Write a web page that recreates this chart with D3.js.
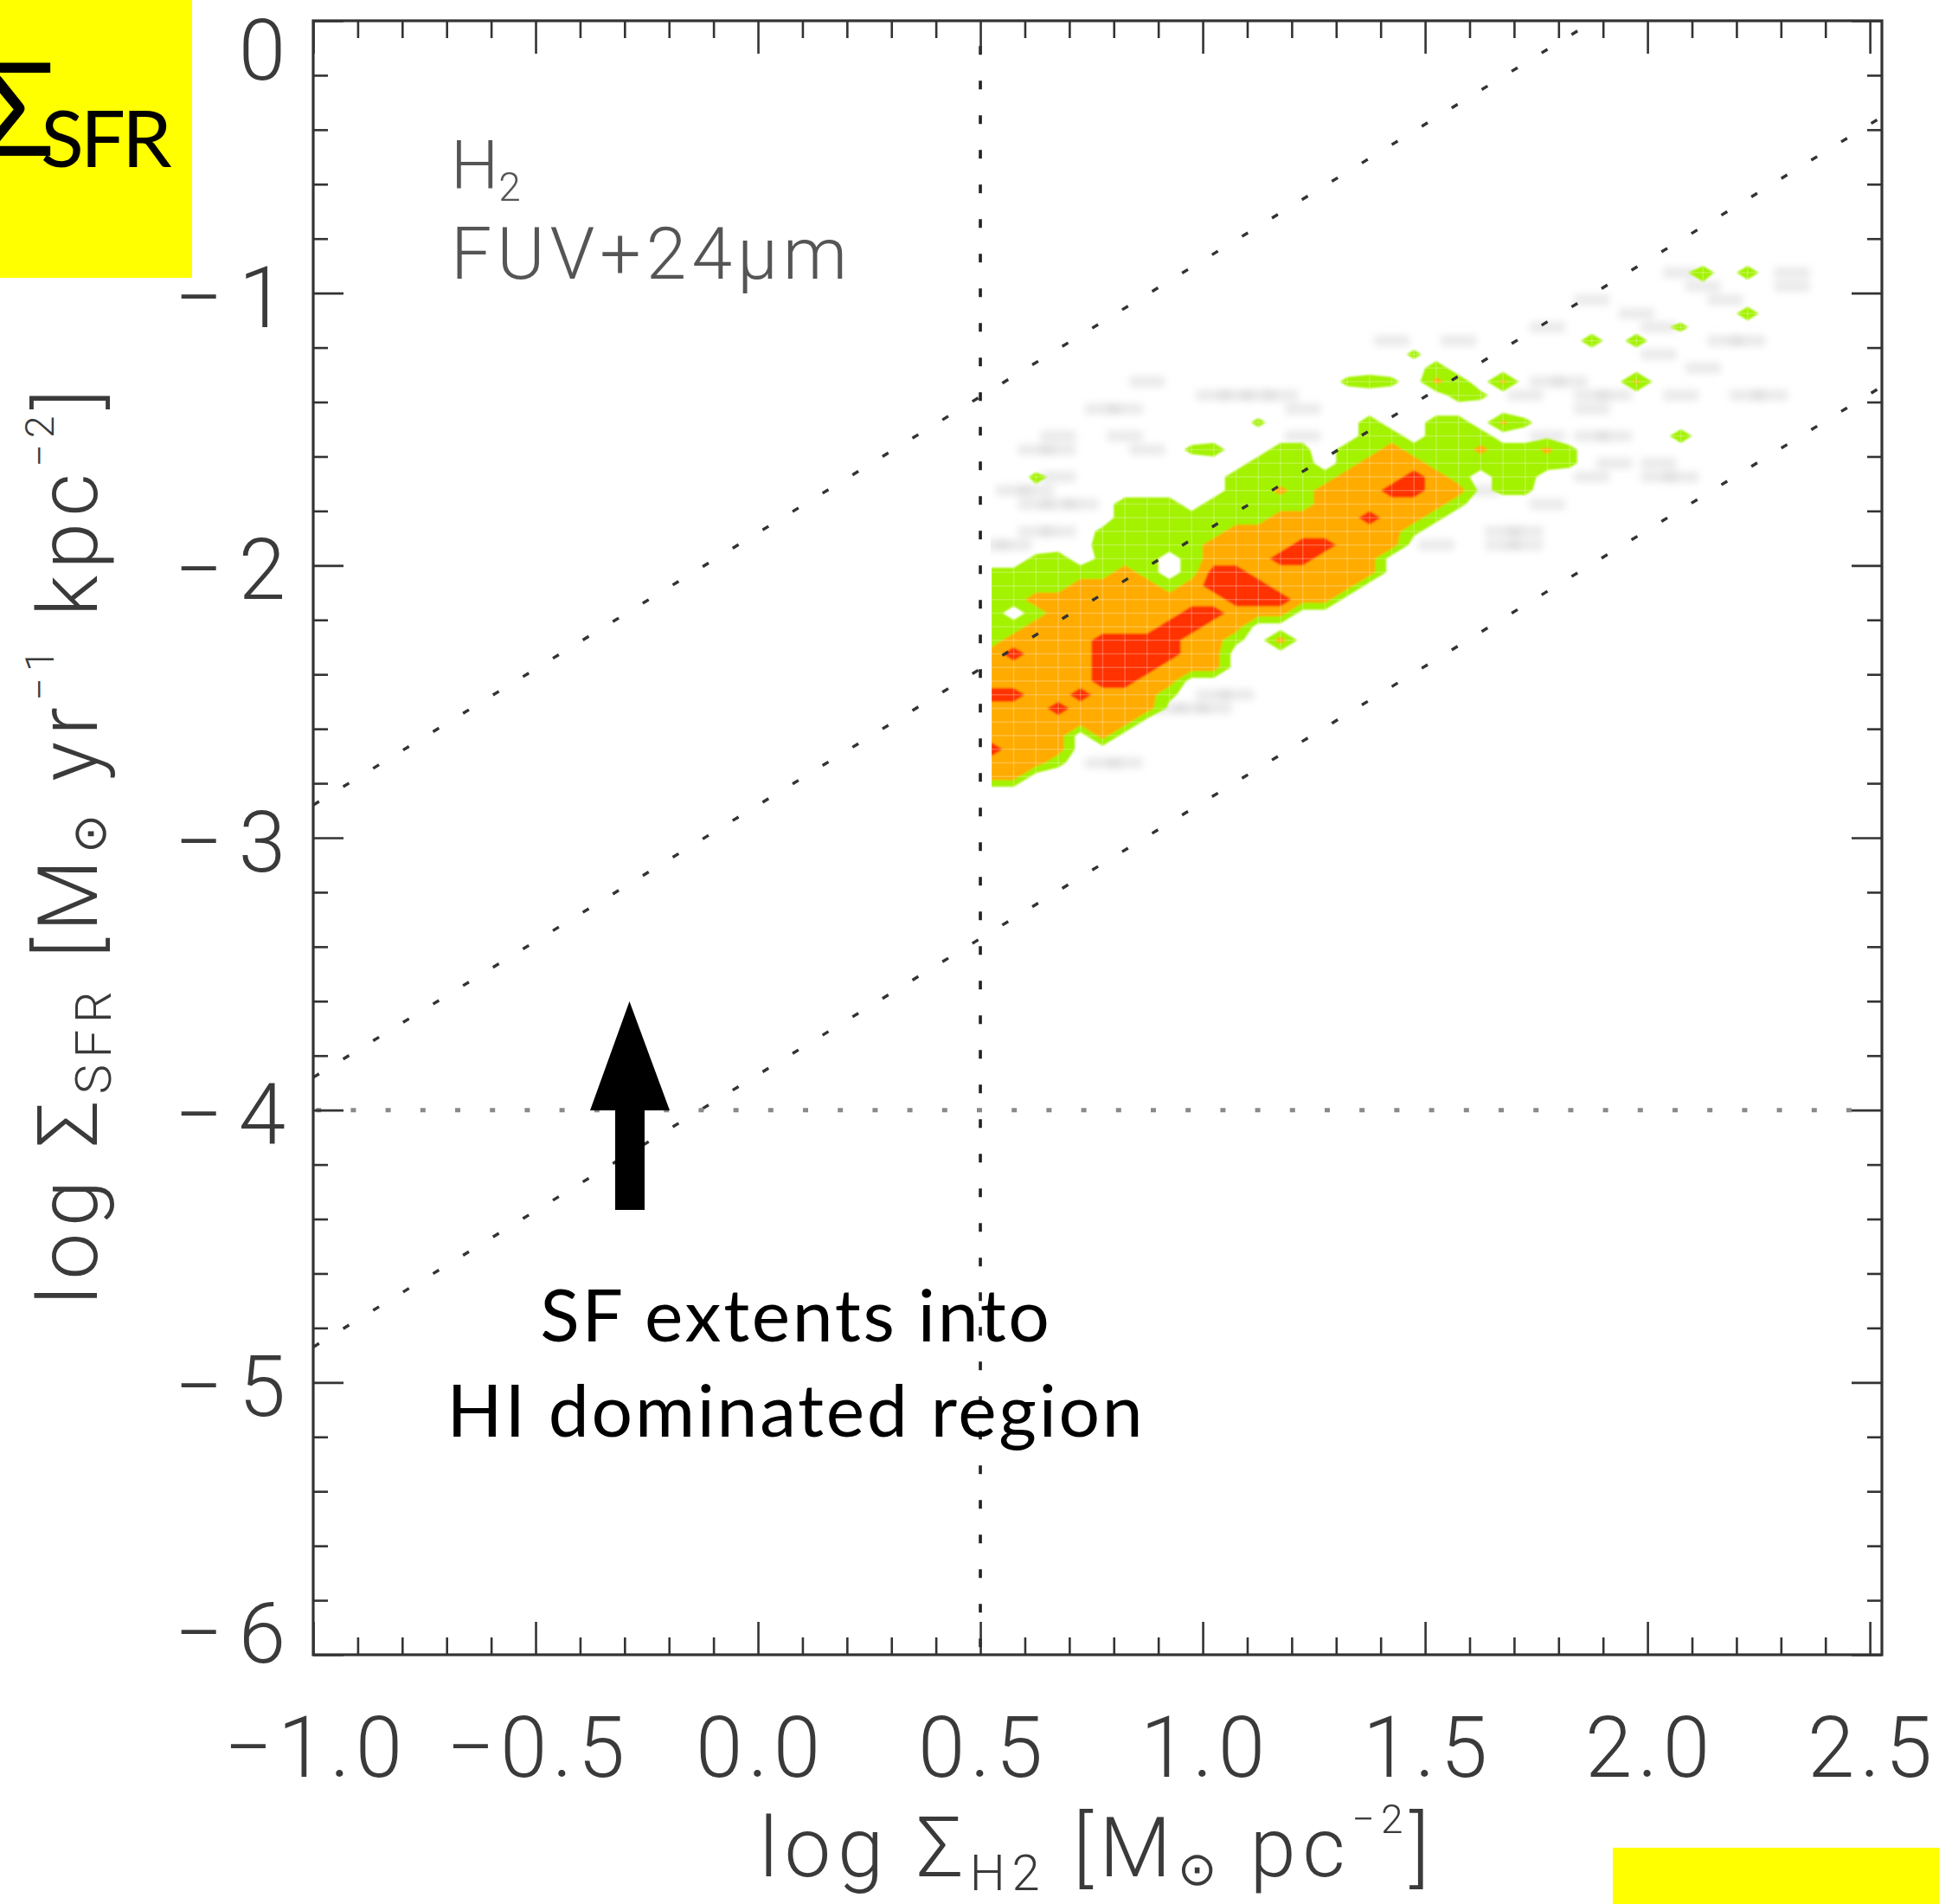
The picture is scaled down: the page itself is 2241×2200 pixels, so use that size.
<!DOCTYPE html>
<html><head><meta charset="utf-8">
<script src="https://cdn.jsdelivr.net/npm/d3@7"></script>
<style>body{margin:0;background:#fff;} svg{display:block;}</style>
</head><body>
<svg id="chart" width="2241" height="2200"></svg>
<script>
// ---------------- data ----------------
const xTicks = [-1.0, -0.5, 0.0, 0.5, 1.0, 1.5, 2.0, 2.5];
const xTickLabels = ["\u22121.0", "\u22120.5", "0.0", "0.5", "1.0", "1.5", "2.0", "2.5"];
const yTicks = [0, -1, -2, -3, -4, -5, -6];
const yTickLabels = ["0", "\u22121", "\u22122", "\u22123", "\u22124", "\u22125", "\u22126"];
const depletionOffsets = [-1.88, -2.88, -3.87];   // dotted lines: log SFR = log H2 + c
const thresholdH2 = 0.5;                          // vertical dotted line
const thresholdSFR = -4;                          // horizontal dotted line
const dataMinX = 0.525;                           // first data column
const gridX0 = 0.5, gridDX = 0.05, gridY0 = -0.85, gridDY = 0.05;
// density grid, top row = log SFR -0.875, left col = log H2 0.525
// '.' empty  '-' faint  'G','g' low  'h','o' mid  'r' high
const gridRows = [
"......................................",
"...............................-g.g.-.",
"................................-...-.",
"...........................-.....-....",
".............................-....g...",
".........................-....-G......",
"..................-..-.....g.g...--...",
"...................G..........-.......",
"....................g...........-.....",
".......-........GgG.hg.h.--..h........",
"..........----.......gG.-..--..-..--..",
".....--.......-............-..........",
"............G....g..gg.hG.............",
"...-..-.......-..gg.ggg..-.--..g......",
"..--...-.Gg..gG.ggoggghgghG...........",
"............ggg.goooggggggG.-.-.......",
"..G-.......gggggooorog.gg..-..--......",
".--........gghgooorroo-GG.............",
"..---.ggg.gggggooooooG...-............",
"......gggggggoooorooG.................",
"..--.GgggggooooooooG...--.............",
"--...gggggoooorrooo.-..--.............",
"..Gg.Ggg.gooorrooo....................",
"GGggggog.grroooooo....................",
"ggggoooogorrroooo.....................",
"ggooooooooorrroo......................",
"g.goooooorrooo........................",
"ggoooooorroo..........................",
"goooorrrrooG.o........................",
"orooorrrroo...........................",
"ooooorrrooo...........................",
"ooooorroo.............................",
"rrooroooG.--..........................",
"oooroooo---...........................",
"ooooooo...............................",
"oooo.o................................",
"rooo..................................",
"oooG.--...............................",
"oo....................................",
"......................................"
];
const levelValue = {'.': 0, '-': 1, 'G': 3, 'g': 4, 'h': 7, 'o': 8, 'r': 12};
const contourLevels = [2, 6, 10];
const contourColors = ["#a3f200", "#ffab00", "#ff3300"];

// ---------------- layout ----------------
const svg = d3.select("#chart");
const x = d3.scaleLinear().domain([-1.0, 2.527]).range([362, 2175]);
const y = d3.scaleLinear().domain([-6, 0]).range([1912, 24]);
const [xMin, xMax] = x.domain(), [yMin, yMax] = y.domain();

svg.append("rect").attr("width", 2241).attr("height", 2200).attr("fill", "#fff");

const defs = svg.append("defs");
defs.append("clipPath").attr("id", "plotClip").append("rect")
  .attr("x", x(xMin)).attr("y", y(yMax)).attr("width", x(xMax) - x(xMin)).attr("height", y(yMin) - y(yMax));
defs.append("clipPath").attr("id", "dataClip").append("rect")
  .attr("x", x(dataMinX)).attr("y", y(yMax)).attr("width", x(xMax) - x(dataMinX)).attr("height", y(yMin) - y(yMax));
defs.append("filter").attr("id", "soft").attr("x", "-5%").attr("y", "-5%").attr("width", "110%").attr("height", "110%")
  .append("feGaussianBlur").attr("stdDeviation", 1.1);
defs.append("filter").attr("id", "haze").attr("x", "-50%").attr("y", "-50%").attr("width", "200%").attr("height", "200%")
  .append("feGaussianBlur").attr("stdDeviation", 4);

// ---------------- density contours ----------------
const nCols = 38, nRows = gridRows.length;
const values = [];
gridRows.forEach(row => {
  const s = row.padEnd(nCols, '.');
  for (let i = 0; i < nCols; i++) values.push(levelValue[s[i]] || 0);
});
const contours = d3.contours().size([nCols, nRows]).thresholds(contourLevels)(values);
const gridProj = d3.geoTransform({
  point: function (gx, gy) { this.stream.point(x(gridX0 + gx * gridDX), y(gridY0 - gy * gridDY)); }
});
const gridPath = d3.geoPath(gridProj);

const dataG = svg.append("g").attr("clip-path", "url(#dataClip)");
// faint background bins
const faint = [];
gridRows.forEach((row, r) => { for (let c = 0; c < row.length; c++) if (row[c] === '-') faint.push([c, r]); });
dataG.append("g").attr("filter", "url(#haze)").selectAll("rect").data(faint).join("rect")
  .attr("x", d => x(gridX0 + (d[0] - 0.3) * gridDX))
  .attr("y", d => y(gridY0 - (d[1] + 0.1) * gridDY))
  .attr("width", x(gridX0 + 1.6 * gridDX) - x(gridX0))
  .attr("height", y(gridY0 - 0.8 * gridDY) - y(gridY0))
  .attr("fill", "#d8d8d8").attr("opacity", 0.55);

const fillG = dataG.append("g").attr("filter", "url(#soft)");
fillG.selectAll("path").data(contours).join("path")
  .attr("d", gridPath)
  .attr("fill", (d, i) => contourColors[i]);

// faint cell grid visible inside the filled area
defs.append("clipPath").attr("id", "fillClip").append("path").attr("d", gridPath(contours[0]));
const gridG = dataG.append("g").attr("clip-path", "url(#fillClip)")
  .attr("stroke", "#fff").attr("stroke-opacity", 0.25).attr("stroke-width", 1.5);
d3.range(nCols).forEach(c => {
  const xv = x(gridX0 + (c + 0.5) * gridDX);
  gridG.append("line").attr("x1", xv).attr("x2", xv).attr("y1", y(gridY0)).attr("y2", y(gridY0 - nRows * gridDY));
});
d3.range(nRows).forEach(r => {
  const yv = y(gridY0 - (r + 0.5) * gridDY);
  gridG.append("line").attr("x1", x(gridX0)).attr("x2", x(gridX0 + nCols * gridDX)).attr("y1", yv).attr("y2", yv);
});

// ---------------- reference lines ----------------
const lineG = svg.append("g").attr("clip-path", "url(#plotClip)").attr("fill", "none");
const line = d3.line().x(d => x(d[0])).y(d => y(d[1]));
depletionOffsets.forEach(c => {
  lineG.append("path").attr("d", line([[xMin, xMin + c], [xMax, xMax + c]]))
    .attr("stroke", "#333").attr("stroke-width", 3.4).attr("stroke-dasharray", "8 32.6");
});
lineG.append("path").attr("d", line([[thresholdH2, yMax], [thresholdH2, yMin]]))
  .attr("stroke", "#222").attr("stroke-width", 3.6).attr("stroke-dasharray", "10 30").attr("stroke-dashoffset", 10.7);
lineG.append("path").attr("d", line([[xMin, thresholdSFR], [xMax, thresholdSFR]]))
  .attr("stroke", "#8a8a8a").attr("stroke-width", 5).attr("stroke-dasharray", "6 34.2").attr("stroke-dashoffset", 37);

// ---------------- axes (ticks) ----------------
const xMinor = d3.range(-10, 26).map(v => v / 10).filter(v => Math.abs(v * 2 - Math.round(v * 2)) > 1e-6);
const yMinor = d3.range(-30, 1).map(v => v / 5).filter(v => Math.abs(v - Math.round(v)) > 1e-6);
function styleAxis(g) {
  g.select(".domain").remove();
  g.selectAll(".tick line").attr("stroke", "#333").attr("stroke-width", 2.6);
  g.selectAll(".tick text").remove();
}
svg.append("g").attr("transform", `translate(0,${y(yMin)})`).call(d3.axisBottom(x).tickValues(xMinor).tickSize(-20)).call(styleAxis);
svg.append("g").attr("transform", `translate(0,${y(yMin)})`).call(d3.axisBottom(x).tickValues(xTicks).tickSize(-38)).call(styleAxis);
svg.append("g").attr("transform", `translate(0,${y(yMax)})`).call(d3.axisTop(x).tickValues(xMinor).tickSize(-20)).call(styleAxis);
svg.append("g").attr("transform", `translate(0,${y(yMax)})`).call(d3.axisTop(x).tickValues(xTicks).tickSize(-38)).call(styleAxis);
svg.append("g").attr("transform", `translate(${x(xMin)},0)`).call(d3.axisLeft(y).tickValues(yMinor).tickSize(-17)).call(styleAxis);
svg.append("g").attr("transform", `translate(${x(xMin)},0)`).call(d3.axisLeft(y).tickValues(yTicks).tickSize(-35)).call(styleAxis);
svg.append("g").attr("transform", `translate(${x(xMax)},0)`).call(d3.axisRight(y).tickValues(yMinor).tickSize(-17)).call(styleAxis);
svg.append("g").attr("transform", `translate(${x(xMax)},0)`).call(d3.axisRight(y).tickValues(yTicks).tickSize(-35)).call(styleAxis);

svg.append("rect").attr("x", x(xMin)).attr("y", y(yMax)).attr("width", x(xMax) - x(xMin)).attr("height", y(yMin) - y(yMax))
  .attr("fill", "none").attr("stroke", "#333").attr("stroke-width", 3.2);

// tick labels
const labelFont = "Roboto, 'Liberation Sans', sans-serif";
svg.append("g").selectAll("text").data(xTicks).join("text")
  .attr("x", d => x(d) + 3).attr("y", 2053).attr("text-anchor", "middle")
  .attr("font-family", labelFont).attr("font-weight", 300).attr("font-size", 98).attr("fill", "#3a3a3a")
  .attr("letter-spacing", 6)
  .text((d, i) => xTickLabels[i]);
svg.append("g").selectAll("text").data(yTicks).join("text")
  .attr("x", 348).attr("y", d => d === yMax ? y(d) + 68 : (d === yMin ? y(d) + 9 : y(d) + 39))
  .attr("text-anchor", "end")
  .attr("font-family", labelFont).attr("font-weight", 300).attr("font-size", 98).attr("fill", "#3a3a3a")
  .attr("letter-spacing", 18)
  .text((d, i) => yTickLabels[i]);

// axis titles
function titleText(sel, sub, sup1, sup2) {
  sel.attr("font-family", labelFont).attr("font-weight", 300).attr("font-size", 96).attr("fill", "#3a3a3a")
    .attr("letter-spacing", 7.5).attr("text-anchor", "middle");
  sel.append("tspan").text("log \u03A3");
  sel.append("tspan").attr("font-size", 58).attr("dy", 16).text(sub);
  sel.append("tspan").attr("dy", -16).text(" [M");
  sel.append("tspan").attr("font-size", 54).attr("dy", 10).attr("font-family", "'DejaVu Sans', sans-serif").text("\u2299");
  if (sup1) {
    sel.append("tspan").attr("dy", -10).text(" yr");
    sel.append("tspan").attr("font-size", 46).attr("dy", -50).text(sup1);
    sel.append("tspan").attr("dy", 50).text(" kpc");
  } else {
    sel.append("tspan").attr("dy", -10).text(" pc");
  }
  sel.append("tspan").attr("font-size", 46).attr("dy", -50).text(sup2);
  sel.append("tspan").attr("dy", 50).text("]");
}
svg.append("text").attr("x", (x(xMin) + x(xMax)) / 2).attr("y", 2168).call(titleText, "H2", null, "\u22122");
svg.append("text").attr("transform", `translate(112,${(y(yMin) + y(yMax)) / 2 + 7}) rotate(-90)`).call(titleText, "SFR", "\u22121", "\u22122");

// in-plot label (one text block, two lines)
const lab = svg.append("text").attr("x", 521).attr("y", 218)
  .attr("font-family", labelFont).attr("font-weight", 300).attr("font-size", 78).attr("fill", "#555");
lab.append("tspan").text("H");
lab.append("tspan").attr("font-size", 46).attr("dy", 14).text("2");
lab.append("tspan").attr("x", 521).attr("dy", 90).attr("font-size", 84).attr("letter-spacing", 6).text("FUV+24\u03BCm");

// ---------------- annotation ----------------
const arrow = d3.path();
arrow.moveTo(727.5, 1157); arrow.lineTo(774, 1283); arrow.lineTo(745, 1283); arrow.lineTo(745, 1398);
arrow.lineTo(711, 1398); arrow.lineTo(711, 1283); arrow.lineTo(682, 1283); arrow.closePath();
svg.append("path").attr("fill", "#000").attr("d", arrow.toString());
const annFont = "Lato, 'Open Sans', sans-serif";
svg.append("text").attr("x", 920).attr("y", 1550).attr("text-anchor", "middle")
  .attr("font-family", annFont).attr("font-size", 84).attr("letter-spacing", 2.7).attr("fill", "#000").text("SF extents into");
svg.append("text").attr("x", 920).attr("y", 1660).attr("text-anchor", "middle")
  .attr("font-family", annFont).attr("font-size", 84).attr("letter-spacing", 2.7).attr("fill", "#000").text("HI dominated region");

// yellow boxes
svg.append("rect").attr("x", 0).attr("y", 0).attr("width", 222).attr("height", 321).attr("fill", "#ffff00");
const probe = svg.append("text").attr("font-family", annFont).attr("font-size", 150).text("\u03A3");
const sigmaAdvance = probe.node().getComputedTextLength();
probe.remove();
const sig = svg.append("text").attr("x", 64 - sigmaAdvance).attr("y", 180)
  .attr("font-family", annFont).attr("fill", "#000");
sig.append("tspan").attr("font-size", 150).attr("letter-spacing", -17).text("\u03A3");
sig.append("tspan").attr("font-size", 92).attr("letter-spacing", -4).attr("dy", 13).text("SFR");
svg.append("rect").attr("x", 1864).attr("y", 2135).attr("width", 377).attr("height", 65).attr("fill", "#ffff00");
</script>
</body></html>
